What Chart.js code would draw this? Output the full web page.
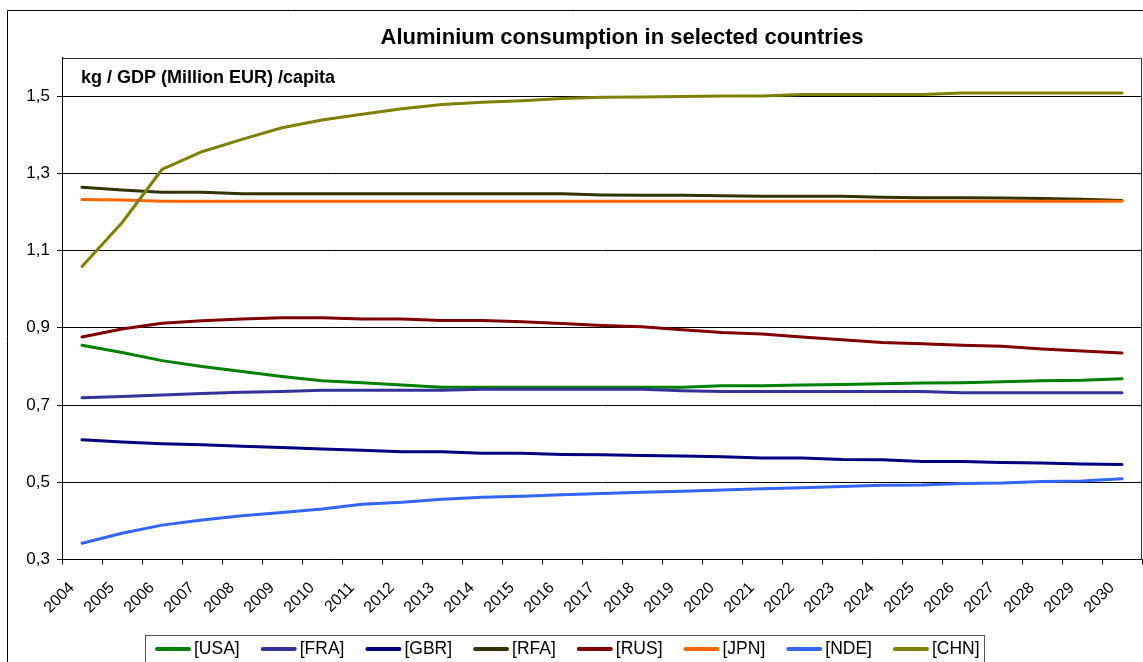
<!DOCTYPE html>
<html>
<head>
<meta charset="utf-8">
<title>Aluminium consumption in selected countries</title>
<script src="https://cdn.jsdelivr.net/npm/chart.js@4/dist/chart.umd.min.js"></script>
<style>
  html, body { margin: 0; padding: 0; background: #fff; }
  #wrap { width: 1143px; height: 662px; position: relative; }
</style>
</head>
<body>
<div id="wrap"><canvas id="chart" width="1143" height="662"></canvas></div>
<script>
// Years on the category axis
const years = ['2004','2005','2006','2007','2008','2009','2010','2011','2012','2013','2014','2015','2016','2017','2018','2019','2020','2021','2022','2023','2024','2025','2026','2027','2028','2029','2030'];

// kg per GDP (million EUR) per capita, by country
const usa = [0.855,0.836,0.815,0.800,0.787,0.774,0.763,0.758,0.752,0.746,0.746,0.746,0.746,0.746,0.746,0.746,0.750,0.750,0.752,0.753,0.755,0.757,0.758,0.760,0.763,0.764,0.768];
const fra = [0.719,0.722,0.726,0.730,0.733,0.735,0.738,0.738,0.738,0.738,0.741,0.741,0.741,0.741,0.741,0.737,0.735,0.735,0.735,0.735,0.735,0.735,0.732,0.732,0.732,0.732,0.732];
const gbr = [0.610,0.604,0.600,0.597,0.593,0.590,0.586,0.583,0.579,0.579,0.575,0.575,0.572,0.571,0.569,0.568,0.566,0.563,0.563,0.559,0.558,0.554,0.554,0.551,0.550,0.547,0.546];
const rfa = [1.264,1.257,1.251,1.251,1.247,1.247,1.247,1.247,1.247,1.247,1.247,1.247,1.247,1.244,1.243,1.243,1.242,1.241,1.241,1.241,1.238,1.237,1.237,1.236,1.235,1.233,1.230];
const rus = [0.876,0.897,0.912,0.918,0.923,0.926,0.926,0.923,0.923,0.919,0.919,0.916,0.911,0.906,0.903,0.895,0.888,0.884,0.876,0.869,0.862,0.859,0.855,0.852,0.845,0.840,0.835];
const jpn = [1.232,1.231,1.228,1.228,1.228,1.228,1.228,1.228,1.228,1.228,1.228,1.228,1.228,1.228,1.228,1.228,1.228,1.228,1.228,1.228,1.228,1.228,1.228,1.228,1.228,1.228,1.228];
const nde = [0.342,0.368,0.389,0.402,0.413,0.422,0.431,0.443,0.448,0.456,0.461,0.464,0.468,0.471,0.474,0.477,0.480,0.483,0.486,0.489,0.492,0.493,0.497,0.498,0.502,0.503,0.509];
const chn = [1.059,1.172,1.310,1.356,1.388,1.418,1.438,1.453,1.467,1.478,1.484,1.488,1.494,1.497,1.498,1.499,1.500,1.500,1.504,1.504,1.504,1.504,1.508,1.508,1.508,1.508,1.508];

// Value-axis tick positions
const yTicks = [0.3, 0.5, 0.7, 0.9, 1.1, 1.3, 1.5];

const FONT = "'Liberation Sans', Arial, sans-serif";

const series = [
  { label: '[USA]', data: usa, color: '#008000' },
  { label: '[FRA]', data: fra, color: '#333399' },
  { label: '[GBR]', data: gbr, color: '#000080' },
  { label: '[RFA]', data: rfa, color: '#333300' },
  { label: '[RUS]', data: rus, color: '#800000' },
  { label: '[JPN]', data: jpn, color: '#FF6600' },
  { label: '[NDE]', data: nde, color: '#3366FF' },
  { label: '[CHN]', data: chn, color: '#808000' }
];

const datasets = series.map((s, i) => ({
  label: s.label,
  data: s.data,
  borderColor: s.color,
  backgroundColor: s.color,
  borderWidth: 3,
  pointRadius: 0,
  pointHoverRadius: 0,
  tension: 0,
  borderCapStyle: 'round',
  borderJoinStyle: 'round',
  order: series.length - 1 - i   // later series painted on top
}));

// Frame, plot border, titles and the boxed legend
const decorations = {
  id: 'decorations',
  beforeDraw(chart) {
    const ctx = chart.ctx;
    ctx.save();
    ctx.fillStyle = '#fff';
    ctx.fillRect(0, 0, chart.width, chart.height);
    ctx.strokeStyle = '#000';
    ctx.lineWidth = 1;
    ctx.beginPath();
    ctx.moveTo(7.5, chart.height);
    ctx.lineTo(7.5, 10.5);
    ctx.lineTo(chart.width, 10.5);
    ctx.stroke();
    ctx.restore();
  },
  afterDraw(chart) {
    const ctx = chart.ctx;
    const a = chart.chartArea;
    ctx.save();
    // plot border (top and right)
    ctx.strokeStyle = '#333';
    ctx.lineWidth = 1;
    ctx.beginPath();
    ctx.moveTo(Math.round(a.left) + 0.5, Math.round(a.top) + 0.5);
    ctx.lineTo(Math.round(a.right) - 0.5, Math.round(a.top) + 0.5);
    ctx.lineTo(Math.round(a.right) - 0.5, Math.round(a.bottom));
    ctx.stroke();

    // chart title
    ctx.fillStyle = '#000';
    ctx.font = 'bold 22px ' + FONT;
    ctx.textAlign = 'center';
    ctx.textBaseline = 'alphabetic';
    ctx.fillText('Aluminium consumption in selected countries', 622, 43.5);

    // unit label inside the plot
    ctx.font = 'bold 18px ' + FONT;
    ctx.textAlign = 'left';
    ctx.fillText('kg / GDP (Million EUR) /capita', 81, 82.5);

    // legend
    ctx.font = '17.5px ' + FONT;
    const lineLen = 34, gapText = 4, gapItem = 22;
    const items = chart.data.datasets.map(d => ({ label: d.label, color: d.borderColor, w: ctx.measureText(d.label).width }));
    let total = 0;
    items.forEach((it, i) => { total += lineLen + gapText + it.w + (i < items.length - 1 ? gapItem : 0); });
    let x = 156;
    const boxL = 145, boxR = x + total + 4;
    const ly = 649;
    ctx.strokeStyle = '#555';
    ctx.lineWidth = 1;
    ctx.strokeRect(boxL + 0.5, 635.5, Math.round(boxR - boxL), 40);
    ctx.textBaseline = 'middle';
    items.forEach(it => {
      ctx.strokeStyle = it.color;
      ctx.lineWidth = 4;
      ctx.lineCap = 'round';
      ctx.beginPath();
      ctx.moveTo(x + 1, ly);
      ctx.lineTo(x + lineLen - 1, ly);
      ctx.stroke();
      ctx.fillStyle = '#000';
      ctx.fillText(it.label, x + lineLen + gapText, ly + 0.5);
      x += lineLen + gapText + it.w + gapItem;
    });
    ctx.restore();
  }
};

new Chart(document.getElementById('chart'), {
  type: 'line',
  data: { labels: years, datasets },
  options: {
    responsive: false,
    animation: false,
    devicePixelRatio: 1,
    layout: { padding: { left: 0, top: 57.5, right: 1, bottom: 0 } },
    plugins: {
      legend: { display: false },
      title: { display: false },
      tooltip: { enabled: false }
    },
    scales: {
      x: {
        type: 'category',
        offset: true,
        grid: {
          offset: true,
          drawOnChartArea: false,
          drawTicks: true,
          tickLength: 5,
          color: '#000'
        },
        border: { display: true, color: '#000', width: 1 },
        ticks: {
          autoSkip: false,
          maxRotation: 45,
          minRotation: 45,
          padding: 14,
          labelOffset: -10,
          color: '#000',
          font: { family: FONT, size: 16 }
        },
        afterFit(scale) {
          scale.height = 102.5;
          scale.paddingLeft = 0;
          scale.paddingRight = 0;
        }
      },
      y: {
        min: 0.3,
        max: 1.6,
        afterBuildTicks(scale) { scale.ticks = yTicks.map(v => ({ value: v })); },
        grid: {
          color: '#000',
          lineWidth: 1,
          drawTicks: true,
          tickLength: 5
        },
        border: { display: true, color: '#000', width: 1 },
        ticks: {
          padding: 7,
          color: '#000',
          font: { family: FONT, size: 17 },
          callback: v => Number(v).toFixed(1).replace('.', ',')
        },
        afterFit(scale) {
          scale.width = 62;
          scale.paddingTop = 0;
          scale.paddingBottom = 0;
        }
      }
    }
  },
  plugins: [decorations]
});
</script>
</body>
</html>
